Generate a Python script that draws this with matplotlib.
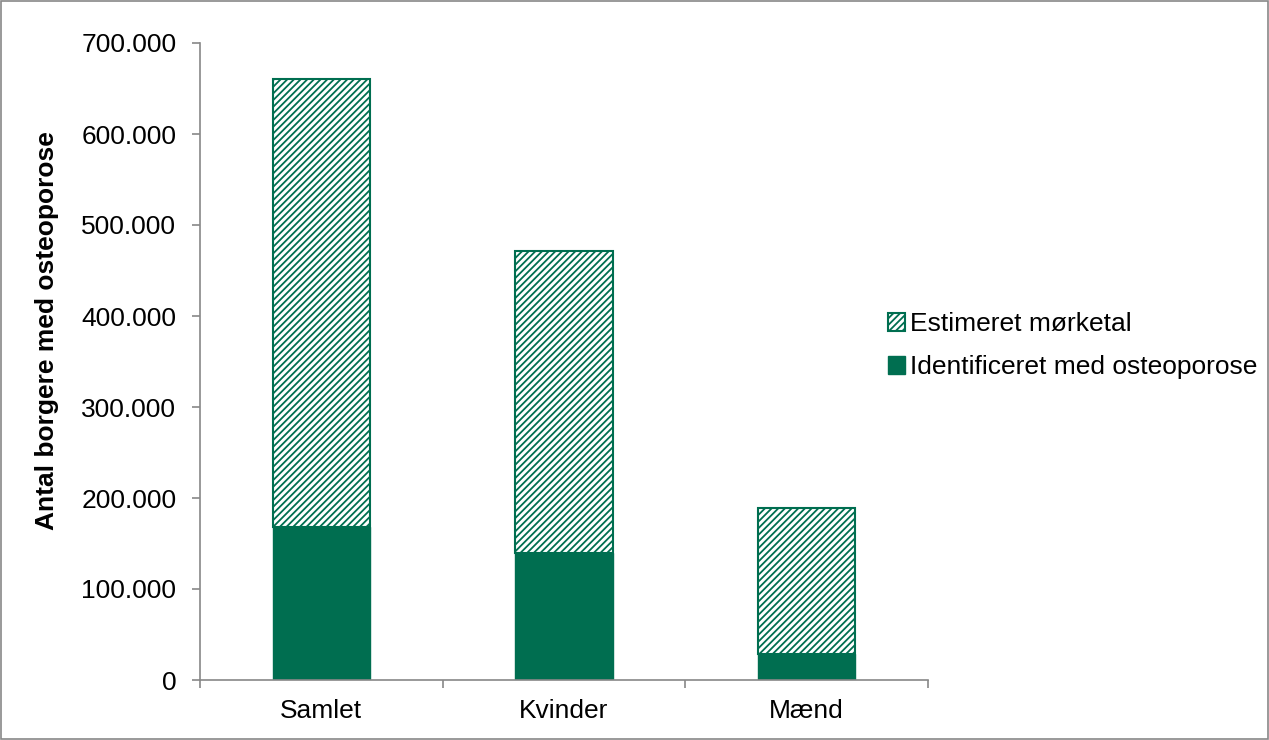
import matplotlib.pyplot as plt
from matplotlib.patches import Rectangle
from matplotlib.ticker import FuncFormatter, MultipleLocator

plt.rcParams['font.family'] = ['Liberation Sans', 'DejaVu Sans']
plt.rcParams['hatch.linewidth'] = 1.3

categories = ['Samlet', 'Kvinder', 'Mænd']
identificeret = [168000, 140000, 29000]
total = [660000, 471000, 189000]
moerketal = [t - i for t, i in zip(total, identificeret)]

dark = '#006E50'
hatch_col = '#35B28A'

fig = plt.figure(figsize=(12.69, 7.40), dpi=100)
ax = fig.add_axes([200 / 1269, 1 - 680 / 740, 728 / 1269, 637 / 740])

x = range(len(categories))
ax.bar(x, identificeret, width=0.4, color=dark, edgecolor=dark, linewidth=1,
       label='Identificeret med osteoporose')
plt.rcParams['hatch.color'] = hatch_col
ax.bar(x, moerketal, width=0.4, bottom=identificeret, color='white',
       edgecolor=dark, linewidth=1.5, hatch='/////',
       label='Estimeret mørketal')

ax.set_xlim(-0.5, 2.5)
ax.set_ylim(0, 700000)
ax.yaxis.set_major_locator(MultipleLocator(100000))
ax.yaxis.set_major_formatter(FuncFormatter(lambda v, p: f'{int(v):,}'.replace(',', '.')))
ax.set_xticks(list(x))
ax.set_xticklabels(categories)
ax.set_xticks([-0.5, 0.5, 1.5, 2.5], minor=True)
ax.tick_params(axis='x', which='major', length=0, pad=14, labelsize=19)
ax.tick_params(axis='x', which='minor', length=6, color='#888888', width=1.2)
ax.tick_params(axis='y', length=6, color='#888888', width=1.2, labelsize=19, pad=11)

for s in ['top', 'right']:
    ax.spines[s].set_visible(False)
for s in ['left', 'bottom']:
    ax.spines[s].set_color('#888888')
    ax.spines[s].set_linewidth(1.2)

ax.set_ylabel('Antal borgere med osteoporose', fontsize=19, fontweight='bold')
ax.yaxis.set_label_coords(-0.194, 0.548)

h, l = ax.get_legend_handles_labels()
ax.legend(h[::-1], l[::-1], loc='center left', bbox_to_anchor=(0.912, 0.525),
          frameon=False, fontsize=19, handlelength=0.65, handleheight=0.65,
          handletextpad=0.2, labelspacing=0.72)

fig.patches.append(Rectangle((0.0008, 0.001), 0.9984, 0.998, transform=fig.transFigure,
                             fill=False, edgecolor='#888888', linewidth=1.2))

fig.savefig('out.png', dpi=100)
